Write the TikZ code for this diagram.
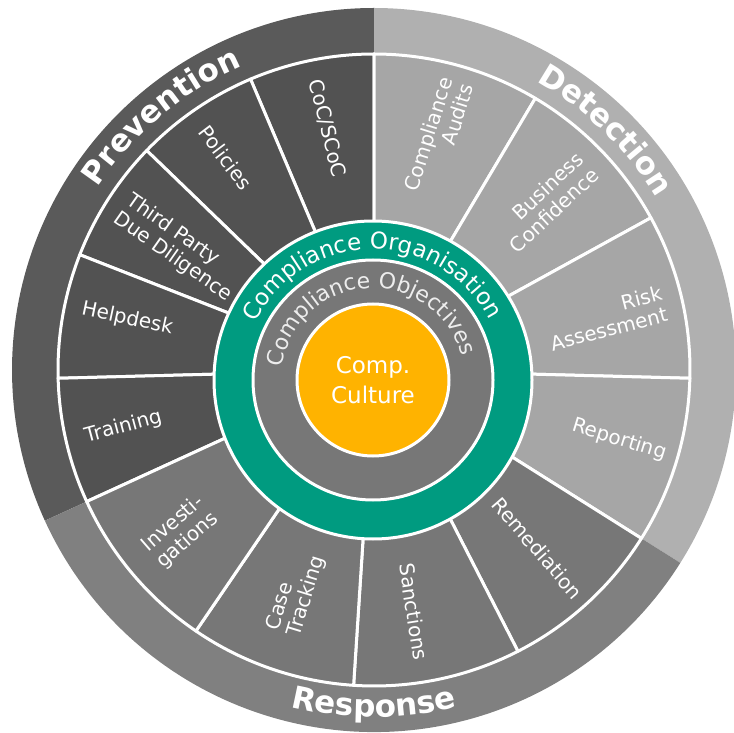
\documentclass[tikz,border=0pt]{standalone}
\usepackage{fontspec}
\setmainfont{DejaVu Sans}
\usetikzlibrary{decorations.text}
\definecolor{prevband}{HTML}{5A5A5A}
\definecolor{prevsec}{HTML}{525252}
\definecolor{detband}{HTML}{B0B0B0}
\definecolor{detsec}{HTML}{A6A6A6}
\definecolor{resband}{HTML}{808080}
\definecolor{ressec}{HTML}{777777}
\definecolor{orggreen}{HTML}{009B80}
\definecolor{objgray}{HTML}{777777}
\definecolor{culture}{HTML}{FFB300}
\definecolor{objtext}{HTML}{EDEDED}
\newcommand\myTitleFmt{\fontsize{31}{31}\selectfont\bfseries\color{white}}
\newcommand\myOrgFmt{\fontsize{23}{23}\selectfont\color{white}}
\newcommand\myObjFmt{\fontsize{22}{22}\selectfont\color{objtext}}
\begin{document}
\begin{tikzpicture}[x=1pt,y=1pt,
  lbl/.style={text=white, font=\fontsize{20}{22}\selectfont, inner sep=0pt},
  secborder/.style={draw=white, line width=3pt, line join=round},
  ringborder/.style={draw=white, line width=3pt}]
\useasboundingbox (0,0) rectangle (734,732);
\clip (0,0) rectangle (734,732);
\coordinate (C) at (374,362);
\coordinate (Ci) at (373,352);
\begin{scope}[shift={(C)}]
  % category bands
  \fill[prevband] (0,0) -- (90:362pt) arc[start angle=90,end angle=204.6,radius=362pt] -- cycle;
  \fill[detband] (0,0) -- (-32.2:362pt) arc[start angle=-32.2,end angle=90,radius=362pt] -- cycle;
  \fill[resband] (0,0) -- (-155.4:362pt) arc[start angle=-155.4,end angle=-32.2,radius=362pt] -- cycle;
  % sectors
  \foreach \a/\b/\c in {90/113/prevsec, 113/136/prevsec, 136/158.6/prevsec, 158.6/181.5/prevsec, 181.5/204.6/prevsec,
      59.3/90/detsec, 28.8/59.3/detsec, -1.5/28.8/detsec, -32.2/-1.5/detsec,
      -62.9/-32.2/ressec, -93.7/-62.9/ressec, -124.3/-93.7/ressec, -155.4/-124.3/ressec}
    \filldraw[fill=\c, secborder] (\a:140pt) -- (\a:316pt) arc[start angle=\a, end angle=\b, radius=316pt] -- (\b:140pt) -- cycle;
  % titles
  \path[decorate, decoration={text along path, text align=center, text={|\myTitleFmt|Prevention}}]
    (152:331pt) arc[start angle=152, end angle=108, radius=331pt];
  \path[decorate, decoration={text along path, text align=center, text={|\myTitleFmt|Detection}}]
    (68:331pt) arc[start angle=68, end angle=24, radius=331pt];
  \path[decorate, decoration={text along path, text align=center, text={|\myTitleFmt|Response}}]
    (-112:347pt) arc[start angle=-112, end angle=-68, radius=347pt];
  % sector labels
  \node[lbl, rotate=-76] (coc) at (101:246pt) {CoC/SCoC};
  \node[lbl, rotate=-53] (pol) at (125:259pt) {Policies};
  \node[lbl, rotate=-35, align=left] (tpd) at (147.9:230pt) {Third Party\\Due Diligence};
  \node[lbl, rotate=-12] (help) at (168.3:252pt) {Helpdesk};
  \node[lbl, rotate=15] (train) at (192.8:257pt) {Training};
  \node[lbl, rotate=41, align=left] (inv) at (219.9:252.5pt) {Investi-\\gations};
  \node[lbl, rotate=73, align=left] (case) at (250.7:236.3pt) {Case\\Tracking};
  \node[lbl, rotate=-81] (sanc) at (-80.6:245pt) {Sanctions};
  \node[lbl, rotate=-49] (rem) at (-47.5:242pt) {Remediation};
  \node[lbl, rotate=-17] (rep) at (-15.9:255pt) {Reporting};
  \node[lbl, rotate=14.5, align=right] (risk) at (12.6:237.8pt) {Risk\\Assessment};
  \node[lbl, rotate=43, align=right] (bus) at (44.2:240.6pt) {Business\\Confidence};
  \node[lbl, rotate=72.5, align=right] (aud) at (74.5:241.4pt) {Compliance\\Audits};
\end{scope}
% inner rings
\filldraw[fill=orggreen, ringborder] (Ci) circle[radius=159pt];
\filldraw[fill=objgray, ringborder] (Ci) circle[radius=120pt];
\filldraw[fill=culture, ringborder] (Ci) circle[radius=76pt];
\begin{scope}[shift={(Ci)}]
  \path[decorate, decoration={text along path, text align=center, text={|\myOrgFmt|Compliance Organisation}}]
    (170:131pt) arc[start angle=170, end angle=11, radius=131pt];
  \path[decorate, decoration={text along path, text align=center, text={|\myObjFmt|Compliance Objectives}}]
    (183.4:92pt) arc[start angle=183.4, end angle=3.4, radius=92pt];
\end{scope}
\node[text=white, font=\fontsize{23}{30}\selectfont, align=center] (cult) at (Ci) {Comp.\\Culture};
\end{tikzpicture}
\end{document}
